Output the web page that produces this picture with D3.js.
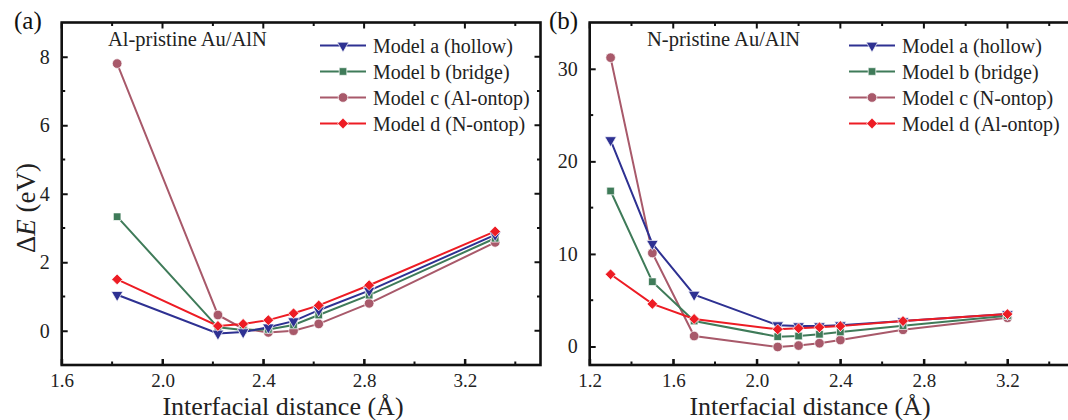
<!DOCTYPE html>
<html>
<head>
<meta charset="utf-8">
<script src="https://cdn.jsdelivr.net/npm/d3@7"></script>
<style>
  body { margin: 0; background: #fff; }
  svg { display: block; }
  svg text { font-family: "Liberation Serif", "DejaVu Serif", serif; }
</style>
</head>
<body>
<svg id="chart" width="1068" height="420"></svg>
<script>
// legend names
var modelNames = ['a', 'b', 'c', 'd'];
var legendA = ['Model a (hollow)', 'Model b (bridge)', 'Model c (Al-ontop)', 'Model d (N-ontop)'];
var legendB = ['Model a (hollow)', 'Model b (bridge)', 'Model c (N-ontop)', 'Model d (Al-ontop)'];

// panel (a): Al-pristine
var distA = [1.82, 2.22, 2.32, 2.42, 2.52, 2.62, 2.82, 3.32];
var aModelA = [1.05, -0.08, -0.04, 0.1, 0.28, 0.6, 1.17, 2.8];
var aModelB = [3.33, 0.1, 0.02, 0.04, 0.17, 0.46, 1.04, 2.7];
var aModelC = [7.8, 0.46, 0.06, -0.05, 0.0, 0.2, 0.8, 2.58];
var aModelD = [1.5, 0.14, 0.2, 0.31, 0.51, 0.74, 1.33, 2.9];

// panel (b): N-pristine
var distB = [1.3, 1.5, 1.7, 2.1, 2.2, 2.3, 2.4, 2.7, 3.2];
var bModelA = [22.3, 11.1, 5.6, 2.3, 2.2, 2.2, 2.3, 2.75, 3.5];
var bModelB = [16.8, 7.0, 2.75, 1.06, 1.13, 1.32, 1.57, 2.25, 3.33];
var bModelC = [31.2, 10.1, 1.13, -0.05, 0.1, 0.35, 0.7, 1.8, 3.1];
var bModelD = [7.8, 4.6, 2.97, 1.85, 1.96, 2.07, 2.2, 2.75, 3.5];

// tick values
var xTicksA = [1.6, 2.0, 2.4, 2.8, 3.2];
var xTicksB = [1.2, 1.6, 2.0, 2.4, 2.8, 3.2];
var yTicksA = [0, 2, 4, 6, 8];
var yTicksB = [0, 10, 20, 30];

// styles per model
var colors = { a: '#2e3192', b: '#3f7b59', c: '#a8596a', d: '#ed1c24' };
var drawOrder = ['c', 'b', 'a', 'd'];
var serif = '"Liberation Serif", "DejaVu Serif", serif';

var svg = d3.select('#chart');

function markerPath(m){
    if(m == 'a') return d3.symbol().type(d3.symbolTriangle).size(58)();
    if(m == 'b') return d3.symbol().type(d3.symbolSquare).size(58)();
    if(m == 'c') return d3.symbol().type(d3.symbolCircle).size(72)();
    return d3.symbol().type(d3.symbolSquare).size(58)();
}
function markerRotate(m){
    if(m == 'a') return 180;
    if(m == 'd') return 45;
    return 0;
}

function drawPanel(p){
    var g = svg.append('g').attr('font-family', serif);
    var x = d3.scaleLinear().domain(p.xDomain).range([p.left, p.right]);
    var y = d3.scaleLinear().domain(p.yDomain).range([p.bottom, p.top]);

    var clipId = 'clip' + p.tag;
    svg.append('clipPath').attr('id', clipId)
        .append('rect').attr('x', p.left).attr('y', p.top)
        .attr('width', p.right - p.left).attr('height', p.bottom - p.top);

    // series
    var data = g.append('g').attr('clip-path', 'url(#' + clipId + ')');
    drawOrder.forEach(function(m){
        var vals = p.series[m];
        var pts = p.dist.map(function(d, i){ return [d, vals[i]]; });
        data.append('path')
            .attr('d', d3.line().x(function(d){ return x(d[0]); }).y(function(d){ return y(d[1]); })(pts))
            .attr('fill', 'none')
            .attr('stroke', colors[m])
            .attr('stroke-width', 2);
    });
    drawOrder.forEach(function(m){
        var vals = p.series[m];
        data.selectAll(null)
            .data(p.dist.map(function(d, i){ return [d, vals[i]]; }))
            .enter().append('path')
                .attr('d', markerPath(m))
                .attr('transform', function(d){ return 'translate(' + x(d[0]) + ',' + y(d[1]) + ') rotate(' + markerRotate(m) + ')'; })
                .attr('fill', colors[m])
                .attr('stroke', '#fff')
                .attr('stroke-width', 0.7);
    });

    // axes with inward ticks
    var xMinor = d3.range(p.xDomain[0], p.xDomain[1] + 1e-9, 0.2);
    var yMinor = d3.range(p.yMinorStart, p.yDomain[1], p.yMinorStep);

    var bottomAxis = g.append('g').attr('transform', 'translate(0,' + p.bottom + ')')
        .call(d3.axisBottom(x).tickValues(p.xTicks).tickFormat(d3.format('.1f')).tickSizeInner(-6).tickSizeOuter(0).tickPadding(8.5));
    var leftAxis = g.append('g').attr('transform', 'translate(' + p.left + ',0)')
        .call(d3.axisLeft(y).tickValues(p.yTicks).tickFormat(d3.format('d')).tickSizeInner(-6).tickSizeOuter(0).tickPadding(12));
    [bottomAxis, leftAxis].forEach(function(ax){
        ax.attr('font-family', serif).attr('font-size', 20);
        ax.select('.domain').remove();
        ax.selectAll('line').attr('stroke', '#111').attr('stroke-width', 2);
        ax.selectAll('text').attr('fill', '#222');
    });
    bottomAxis.attr('font-size', 19);

    // minor ticks and mirrored ticks
    var ticks = g.append('g').attr('stroke', '#111').attr('stroke-width', 2);
    xMinor.forEach(function(v, i){
        var len = (i % 2 == 0) ? 6 : 3.5;
        ticks.append('line').attr('x1', x(v)).attr('x2', x(v)).attr('y1', p.bottom).attr('y2', p.bottom - len);
        ticks.append('line').attr('x1', x(v)).attr('x2', x(v)).attr('y1', p.top).attr('y2', p.top + len);
    });
    yMinor.forEach(function(v){
        ticks.append('line').attr('x1', p.left).attr('x2', p.left + 3.5).attr('y1', y(v)).attr('y2', y(v));
        ticks.append('line').attr('x1', p.right).attr('x2', p.right - 3.5).attr('y1', y(v)).attr('y2', y(v));
    });
    p.yTicks.forEach(function(v){
        ticks.append('line').attr('x1', p.right).attr('x2', p.right - 6).attr('y1', y(v)).attr('y2', y(v));
    });

    // frame
    g.append('rect')
        .attr('x', p.left).attr('y', p.top)
        .attr('width', p.right - p.left).attr('height', p.bottom - p.top)
        .attr('fill', 'none').attr('stroke', '#111').attr('stroke-width', 2.6);

    // panel letter and annotation
    g.append('text').attr('x', p.letterX).attr('y', 29).attr('font-size', 25).attr('fill', '#111').text(p.letter);
    g.append('text').attr('x', p.noteX).attr('y', 46).attr('font-size', 20.5).attr('fill', '#222').text(p.note);

    // x title
    g.append('text').attr('x', p.titleX).attr('y', 414.5).attr('text-anchor', 'middle')
        .attr('font-size', 26).attr('fill', '#222').text('Interfacial distance (Å)');

    // legend
    var leg = g.append('g');
    modelNames.forEach(function(m, i){
        var ly = 45.5 + i * 26;
        leg.append('line').attr('x1', p.legX).attr('x2', p.legX + 46).attr('y1', ly).attr('y2', ly)
            .attr('stroke', colors[m]).attr('stroke-width', 2);
        leg.append('path').attr('d', markerPath(m))
            .attr('transform', 'translate(' + (p.legX + 23) + ',' + ly + ') rotate(' + markerRotate(m) + ')')
            .attr('fill', colors[m]).attr('stroke', '#fff').attr('stroke-width', 0.7);
        leg.append('text').attr('x', p.legX + 53).attr('y', ly).attr('dy', '0.35em')
            .attr('font-size', 20).attr('fill', '#222').text(p.legend[i]);
    });
}

drawPanel({
    tag: 'A', letter: '(a)', letterX: 14, note: 'Al-pristine Au/AlN', noteX: 108,
    left: 61.7, right: 540.5, top: 22.5, bottom: 365,
    xDomain: [1.6, 3.5], yDomain: [-1, 9], xTicks: xTicksA, yTicks: yTicksA,
    yMinorStart: -1, yMinorStep: 2,
    dist: distA, series: { a: aModelA, b: aModelB, c: aModelC, d: aModelD },
    legend: legendA, legX: 320, titleX: 283
});

drawPanel({
    tag: 'B', letter: '(b)', letterX: 549, note: 'N-pristine Au/AlN', noteX: 647,
    left: 589.7, right: 1091, top: 22.5, bottom: 365,
    xDomain: [1.2, 3.6], yDomain: [-2, 35], xTicks: xTicksB, yTicks: yTicksB,
    yMinorStart: 5, yMinorStep: 10,
    dist: distB, series: { a: bModelA, b: bModelB, c: bModelC, d: bModelD },
    legend: legendB, legX: 849, titleX: 810
});

// y title (left panel only)
svg.append('text')
    .attr('transform', 'translate(35,208) rotate(-90)')
    .attr('font-family', serif)
    .attr('text-anchor', 'middle').attr('font-size', 27).attr('fill', '#222')
    .html('Δ<tspan font-style="italic">E</tspan> (eV)');
</script>
</body>
</html>
